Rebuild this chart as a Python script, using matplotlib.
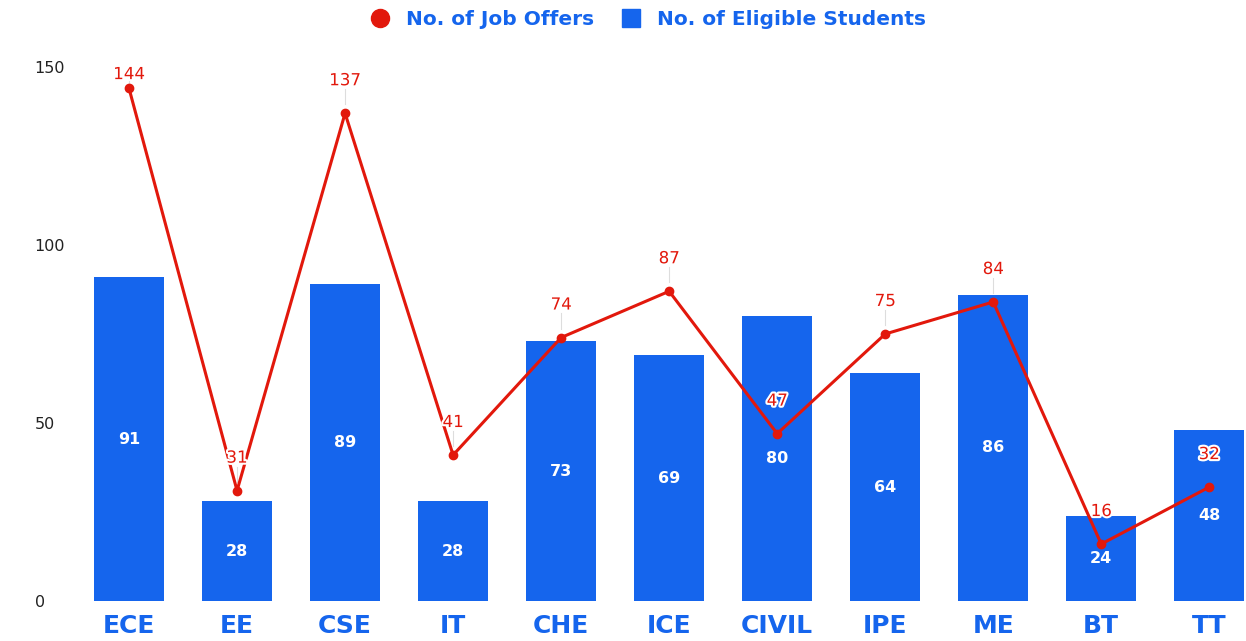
import numpy as np
import matplotlib.pyplot as plt
from matplotlib import patheffects as pe
from matplotlib.lines import Line2D

# ============================================
# Placement data by branch
# ============================================

branches = ["ECE", "EE", "CSE", "IT", "CHE", "ICE", "CIVIL", "IPE", "ME", "BT", "TT"]
eligible_students = [91, 28, 89, 28, 73, 69, 80, 64, 86, 24, 48]
job_offers = [144, 31, 137, 41, 74, 87, 47, 75, 84, 16, 32]

blue = "#1565ed"
red = "#e2180c"
plt.rcParams["font.family"] = ["DejaVu Sans"]

# ============================================
# Plotting
# ============================================

fig = plt.figure(figsize=(12.46, 6.41), dpi=100)
ax = fig.add_axes([0.0602, 0.0624, 0.9398, 0.8331])

x = np.arange(len(branches))
ax.bar(x, eligible_students, width=0.65, color=blue, zorder=2)
for xi, v in zip(x, eligible_students):
    ax.text(xi, v / 2, str(v), color="white", fontsize=11.5, fontweight="bold",
            ha="center", va="center", zorder=3)

ax.plot(x, job_offers, color=red, linewidth=2.2, marker="o", markersize=6, zorder=4)

# labels above points, 33 px up, kept inside the plot
halo = [pe.withStroke(linewidth=3, foreground="white")]
px_per_unit = 534 / 150
for xi, v in zip(x, job_offers):
    ly = min(v + 33 / px_per_unit, 148)
    ax.plot([xi, xi], [v + 2.5, ly - 2.5], color="#dddddd", linewidth=0.8, zorder=1)
    ax.text(xi, ly, str(v), color=red, fontsize=12, ha="center", va="center",
            path_effects=halo, zorder=5)

ax.set_xlim(-0.5, 10.34)
ax.set_ylim(0, 150)
ax.set_xticks(x)
ax.set_xticklabels(branches, color=blue, fontsize=18, fontweight="bold")
ax.set_yticks([0, 50, 100, 150])
ax.set_yticklabels(["0", "50", "100", "150"], fontsize=11.5, color="#222222", ha="left")
ax.tick_params(axis="y", length=0, pad=29)
ax.tick_params(axis="x", length=0, pad=9)
for s in ax.spines.values():
    s.set_visible(False)

handles = [
    Line2D([], [], color=red, marker="o", linestyle="none", markersize=13),
    Line2D([], [], color=blue, marker="s", linestyle="none", markersize=13),
]
leg = fig.legend(handles, ["No. of Job Offers", "No. of Eligible Students"],
                 loc="center", bbox_to_anchor=(0.516, 0.97), ncol=2, frameon=False,
                 handletextpad=0.3, columnspacing=0.8,
                 prop={"weight": "bold", "size": 14.5})
for t in leg.get_texts():
    t.set_color(blue)

plt.savefig("out.png", dpi=100)
